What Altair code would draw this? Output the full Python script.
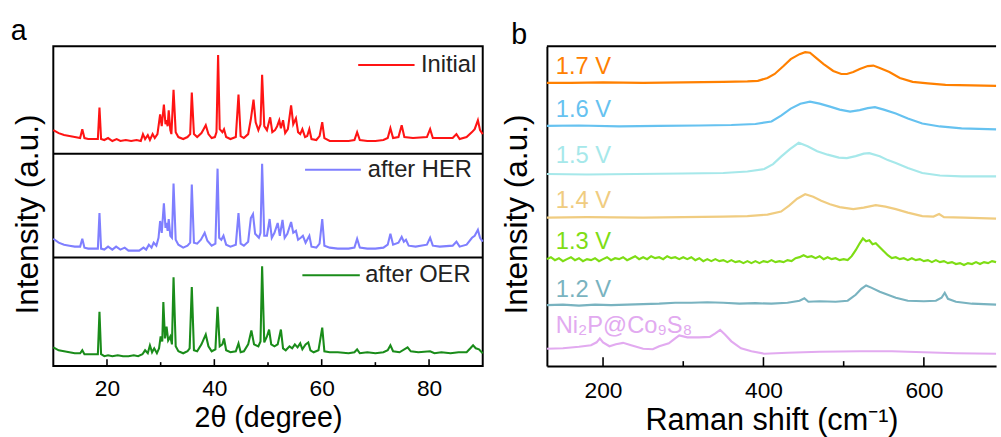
import altair as alt
import pandas as pd

FONT = "Liberation Sans"

# ---------------- Panel a : XRD patterns ----------------
initial_theta = [10.0, 11, 12, 13, 14, 15.0, 15.4, 15.8, 16.5, 17.5, 18.3, 18.6, 18.9, 19.5, 20.2, 21, 21.8, 22.5, 23.5, 24.5,
                 25.5, 26.3, 26.7, 27.1, 27.6, 28.0, 28.5, 28.9, 29.4, 29.9, 30.2, 30.6, 30.9, 31.1, 31.3, 31.5, 31.8, 32.0,
                 32.4, 32.8, 33.3, 34.2, 35.0, 35.5, 35.8, 36.2, 36.8, 37.6, 38.0, 38.4, 38.9, 39.5, 40.1, 40.4, 40.7, 41.0,
                 41.5, 41.8, 42.2, 43.0, 44.0, 44.5, 44.9, 45.5, 46.3, 46.8, 47.3, 47.7, 48.2, 48.6, 48.9, 49.3, 49.8, 50.4,
                 50.8, 51.3, 51.7, 52.1, 52.4, 52.8, 53.2, 53.7, 54.3, 54.7, 55.2, 55.6, 56.0, 56.4, 56.9, 57.3, 57.7, 58.1,
                 59.0, 59.6, 60.1, 60.5, 61.5, 63, 65, 66.1, 66.6, 67.1, 68.5, 70, 71.5, 72.3, 72.8, 73.3, 74.3, 74.9, 75.4,
                 77, 79.6, 80.2, 80.7, 82, 84.4, 85.1, 85.7, 87, 88.0, 88.5, 89.1, 89.5, 90]
initial_int = [24, 21, 19, 18, 17, 16, 25, 16, 15, 15, 15, 47, 15, 14, 16, 13, 15, 13, 14, 13,
               14, 13, 20, 15, 19, 14, 20, 16, 20, 40, 28, 50, 30, 34, 28, 44, 24, 20,
               65, 22, 17, 15, 17, 20, 62, 20, 17, 21, 25, 29, 20, 16, 17, 22, 100, 25,
               22, 25, 17, 15, 17, 60, 18, 16, 20, 35, 55, 32, 24, 30, 80, 28, 24, 37,
               22, 24, 28, 34, 26, 34, 21, 25, 49, 30, 36, 22, 20, 25, 17, 18, 25, 15,
               14, 18, 32, 16, 13, 13, 13, 14, 22, 14, 13, 13, 14, 16, 26, 16, 17, 29, 17,
               16, 17, 25, 16, 16, 16, 20, 15, 17, 22, 25, 34, 24, 20]

her_theta = [10.0, 11, 12, 13, 14, 15.0, 15.4, 15.8, 16.5, 17.5, 18.3, 18.6, 18.9, 19.5, 20.2, 21, 21.7, 22.5, 23.3, 24,
             25, 26, 26.8, 27.3, 27.8, 28.3, 28.7, 29.2, 29.6, 29.9, 30.2, 30.6, 30.9, 31.1, 31.3, 31.5, 31.8, 32.1,
             32.4, 32.8, 33.3, 34.2, 35.0, 35.5, 35.8, 36.2, 36.8, 37.5, 38.2, 38.7, 39.5, 40.2, 40.6, 40.9, 41.3, 41.7,
             42.2, 43, 44.0, 44.5, 44.9, 45.5, 46.3, 46.8, 47.2, 47.6, 48.3, 48.6, 48.9, 49.3, 49.8, 50.3, 50.7, 51.2,
             51.8, 52.2, 52.7, 53.1, 53.6, 54.3, 54.7, 55.2, 55.6, 56.1, 56.5, 57.0, 57.7, 58.1, 59.0, 59.6, 60.1, 60.5,
             61.5, 63, 65, 66.1, 66.6, 67.1, 68.5, 70, 71.5, 72.3, 72.8, 73.3, 74.3, 74.9, 75.3, 75.7, 76.2, 77.5, 79.6,
             80.2, 80.7, 82, 84.4, 85.1, 85.7, 87, 88.0, 88.5, 89.1, 89.5, 90]
her_int = [19, 15, 13, 12, 11, 11, 19, 10, 9, 9, 9, 45, 9, 8, 11, 8, 11, 8, 10, 7,
           7, 7, 10, 8, 13, 10, 15, 12, 20, 37, 25, 55, 30, 35, 27, 39, 22, 20,
           75, 18, 13, 10, 12, 15, 74, 15, 14, 18, 25, 17, 12, 14, 90, 20, 18, 22,
           13, 11, 13, 45, 14, 12, 16, 40, 44, 24, 20, 25, 95, 22, 22, 39, 20, 25,
           35, 22, 38, 20, 24, 36, 25, 27, 18, 20, 22, 15, 22, 11, 10, 14, 39, 12,
           10, 9, 9, 10, 19, 10, 9, 9, 10, 13, 24, 13, 15, 21, 16, 18, 12, 11, 13,
           20, 12, 11, 12, 16, 11, 13, 20, 22, 28, 20, 16]

oer_theta = [10.0, 11, 12, 13, 14, 15.0, 15.4, 15.8, 16.5, 17.5, 18.3, 18.6, 18.9, 19.5, 20.2, 21, 22, 23, 24, 25,
             25.8, 26.6, 27.1, 27.6, 28.0, 28.4, 28.8, 29.3, 29.7, 30.0, 30.3, 30.5, 30.8, 31.1, 31.4, 31.8, 32.1,
             32.4, 32.8, 33.3, 34.2, 35.0, 35.4, 35.8, 36.2, 36.8, 37.6, 38.0, 38.4, 38.9, 39.5, 40.2, 40.6, 41.0,
             41.5, 41.8, 42.2, 43, 44.0, 44.5, 44.9, 45.5, 46.3, 46.9, 47.4, 48.2, 48.6, 48.9, 49.3, 49.8, 50.2,
             50.6, 51.2, 51.8, 52.4, 52.8, 53.3, 54.0, 54.5, 55.0, 55.5, 56.0, 56.4, 57.0, 57.5, 57.9, 58.5, 59.4,
             60.1, 60.5, 61.5, 63, 65, 66.1, 66.6, 67.1, 68.5, 70, 71.5, 72.3, 72.8, 73.3, 74.5, 76.0, 76.6, 78,
             80.2, 81, 82.3, 84.0, 85.5, 87, 87.7, 88.2, 88.7, 89.3, 90]
oer_int = [19, 16, 15, 14, 13, 13, 16, 12, 12, 12, 12, 55, 12, 10, 11, 10, 11, 10, 10, 11,
           10, 12, 16, 13, 21, 14, 18, 13, 18, 30, 25, 65, 28, 40, 26, 30, 22,
           90, 20, 15, 13, 15, 18, 80, 16, 15, 22, 27, 32, 20, 15, 17, 60, 20,
           22, 28, 16, 14, 15, 23, 14, 15, 22, 36, 22, 20, 25, 101, 24, 30, 37,
           22, 20, 22, 37, 18, 16, 20, 18, 22, 19, 23, 17, 22, 24, 16, 14, 16,
           39, 15, 14, 14, 13, 14, 17, 13, 14, 13, 14, 16, 21, 15, 14, 19, 15, 14,
           15, 13, 14, 13, 14, 14, 18, 21, 18, 17, 13]

xrd_names = ["Initial", "after HER", "after OER"]
xrd_colors = ["#FF1414", "#7F7FFF", "#1A8C1A"]
xrd_offsets = [215, 110, 0]          # vertical stacking of the three sub-panels
xrd_separators = [110, 215]
legend_x1 = [66.8, 56.9, 56.4]
legend_x2 = [77.3, 67.3, 67.1]
legend_y = [305, 199, 92]
legend_text_x = [78.5, 68.6, 68.1]
xrd_ticks = [20, 30, 40, 50, 60, 70, 80]
xrd_tick_len = [7, 4, 7, 4, 7, 4, 7]

# ---------------- Panel b : Raman spectra ----------------
r17_x = [130, 160, 200, 250, 300, 350, 380, 393, 405, 414, 425, 434, 445, 452, 458, 466, 475, 487, 497, 504, 512, 520,
         530, 537, 545, 557, 570, 586, 605, 627, 660, 690]
r17_y = [286, 286, 286.5, 286, 286.5, 287, 287.5, 288, 291, 295, 303, 310, 315, 317, 316.5, 311, 305, 298, 295, 295,
         297, 300, 303, 303.5, 301, 297, 291, 287, 285.5, 284, 283.5, 283]
r16_x = [130, 170, 220, 270, 320, 360, 390, 410, 422, 434, 446, 458, 470, 483, 495, 508, 520, 530, 539, 550, 565, 580,
         598, 620, 647, 690]
r16_y = [242.5, 243, 242, 242.5, 243, 243.5, 244.5, 247, 253, 260, 265, 267, 265, 262, 259, 257, 258.5, 260.5, 261.5,
         259, 255, 250, 245, 242, 240, 239]
r15_x = [130, 180, 240, 300, 350, 380, 401, 412, 422, 433, 444, 455, 467, 480, 494, 504, 515, 525, 532, 545, 555, 565,
         580, 598, 620, 647, 690]
r15_y = [194, 193.5, 194, 194.5, 195, 196.5, 199, 204, 211.5, 219, 225.5, 222, 217, 213.5, 210.5, 210, 212, 214.5, 215,
         212, 208, 205, 200, 195, 192.5, 191.5, 191.5]
r14_x = [130, 180, 250, 300, 350, 380, 405, 422, 432, 442, 452, 462, 472, 483, 495, 512, 525, 540, 552, 565, 580, 598,
         612, 619, 625, 650, 690]
r14_y = [150, 150.5, 150, 150.5, 151, 151.5, 153, 156, 162, 169, 173.5, 171, 167, 163.5, 160.5, 158.5, 160, 162.5, 161,
         158.5, 155, 151.5, 151, 153.5, 150.5, 150, 149]
r13_x = [130, 135, 140, 145, 150, 155, 160, 165, 170, 175, 180, 185, 190, 195, 200, 205, 210, 215, 220, 225, 230, 235,
         240, 245, 250, 255, 260, 265, 270, 275, 280, 285, 290, 295, 300, 305, 310, 315, 320, 325, 330, 335, 340, 345,
         350, 355, 360, 365, 370, 375, 380, 385, 390, 395, 400, 405, 410, 415, 420, 425, 430, 435, 440, 445, 450, 455,
         460, 465, 470, 475, 480, 485, 490, 495, 500, 505, 510, 515, 520, 524, 528, 532, 536, 540, 545, 550, 555, 560,
         565, 570, 575, 580, 585, 590, 595, 600, 605, 610, 615, 620, 625, 630, 635, 640, 645, 650, 655, 660, 665, 670,
         675, 680, 685, 690]
r13_y = [108, 110, 107, 109, 106, 108, 110, 107, 109, 106, 108, 107, 109, 106, 108, 110, 107, 109, 108, 110, 107, 109,
         111, 108, 110, 108, 111, 109, 110, 108, 111, 109, 110, 108, 110, 108, 110, 107, 109, 106, 108, 106, 108, 106,
         107, 105, 107, 105, 106, 104, 106, 104, 106, 104, 106, 105, 107, 105, 106, 105, 107, 106, 109, 110, 112, 110,
         111, 109, 111, 108, 110, 108, 109, 107, 108, 107, 111, 117, 124, 129, 126, 127, 123, 124, 120, 116, 112, 109,
         110, 108, 109, 107, 109, 107, 108, 106, 107, 105, 107, 105, 106, 104, 105, 103, 104, 102, 104, 103, 105, 103,
         105, 104, 106, 105]
r12_x = [130, 150, 170, 190, 210, 230, 250, 270, 290, 310, 330, 350, 370, 390, 410, 430, 445, 451, 456, 470, 490, 505,
         515, 522, 528, 535, 545, 555, 565, 580, 600, 615, 622, 626, 630, 640, 660, 690]
r12_y = [61.5, 62, 61, 62, 61.5, 62, 62.5, 63, 64, 64, 64.5, 64, 63, 63.5, 63, 64, 66, 68.5, 65, 65.5, 65, 66,
         72, 78, 81.5, 79, 75, 72, 69, 66, 65.5, 66, 69, 74, 68, 65, 63, 62]
rni_x = [130, 150, 170, 185, 192, 196, 200, 208, 216, 225, 235, 250, 262, 270, 282, 290, 295, 305, 320, 333, 340, 346,
         352, 360, 372, 385, 401, 430, 470, 520, 560, 600, 640, 690]
rni_y = [17.5, 18, 19.5, 21, 24, 28, 24, 20, 22, 23.5, 21, 17.5, 17, 20, 23, 28, 31, 29, 29, 29.5, 33, 36.5,
         32, 25, 18, 15, 12.5, 13.5, 14.5, 15, 15, 14, 13, 12.5]

raman_names = ["1.7 V", "1.6 V", "1.5 V", "1.4 V", "1.3 V", "1.2 V", "Ni₂P@Co₉S₈"]
raman_colors = ["#FF8000", "#66C2F0", "#A6E8EA", "#F0CC80", "#7EDD14", "#79B3C0", "#E2AAF0"]
raman_label_y = [295, 252, 205, 160, 118, 70, 33]
raman_label_x = 141
raman_ticks = [200, 300, 400, 500, 600]
raman_tick_len = [9, 5, 9, 5, 9]

# ---------------- build tables ----------------
rows = []
for name, th, it, off in zip(xrd_names, [initial_theta, her_theta, oer_theta],
                             [initial_int, her_int, oer_int], xrd_offsets):
    for t, v in zip(th, it):
        rows.append({"theta": t, "y": v + off, "sample": name})
df_a = pd.DataFrame(rows)

rows = []
for name, xs, ys in zip(raman_names, [r17_x, r16_x, r15_x, r14_x, r13_x, r12_x, rni_x],
                        [r17_y, r16_y, r15_y, r14_y, r13_y, r12_y, rni_y]):
    for x, y in zip(xs, ys):
        rows.append({"shift": x, "y": y, "potential": name})
df_b = pd.DataFrame(rows)

W_A, W_B, H = 435, 455, 324

xa = alt.Scale(domain=[10, 90], nice=False, zero=False)
ya = alt.Scale(domain=[0, 324], nice=False, zero=False)
xb = alt.Scale(domain=[130, 690], nice=False, zero=False)
yb = alt.Scale(domain=[0, 323], nice=False, zero=False)

color_a = alt.Scale(domain=xrd_names, range=xrd_colors)
color_b = alt.Scale(domain=raman_names, range=raman_colors)

axis_xa = alt.Axis(values=[20, 40, 60, 80], ticks=False, domain=False, grid=False,
                   labelFontSize=23, labelBaseline="alphabetic", labelPadding=30, labelColor="black",
                   title="2θ (degree)", titleFontSize=29, titleFontWeight="normal", titleColor="black",
                   titleBaseline="alphabetic", titleY=61)
axis_ya = alt.Axis(labels=False, ticks=False, domain=False, grid=False,
                   title="Intensity (a.u.)", titleFontSize=32, titleFontWeight="normal", titleColor="black",
                   titleBaseline="alphabetic", titleX=-16, titleY=170, titleAngle=270)

lines_a = alt.Chart(df_a).mark_line(strokeWidth=2.1).encode(
    x=alt.X("theta:Q", scale=xa, axis=axis_xa),
    y=alt.Y("y:Q", scale=ya, axis=axis_ya),
    color=alt.Color("sample:N", scale=color_a, legend=None),
)

sep_a = alt.Chart(pd.DataFrame({"y": xrd_separators})).mark_rule(color="black", strokeWidth=2).encode(
    y=alt.Y("y:Q", scale=ya))

ticks_a = alt.Chart(pd.DataFrame({"x": xrd_ticks, "y0": [0] * len(xrd_ticks), "y1": xrd_tick_len})).mark_rule(
    color="black", strokeWidth=1.6).encode(
    x=alt.X("x:Q", scale=xa), y=alt.Y("y0:Q", scale=ya), y2="y1:Q")

leg_df = pd.DataFrame({"x1": legend_x1, "x2": legend_x2, "y": legend_y, "tx": legend_text_x,
                       "sample": xrd_names})
leg_lines = alt.Chart(leg_df).mark_rule(strokeWidth=2).encode(
    x=alt.X("x1:Q", scale=xa), x2="x2:Q", y=alt.Y("y:Q", scale=ya),
    color=alt.Color("sample:N", scale=color_a, legend=None))
leg_text = alt.Chart(leg_df).mark_text(align="left", baseline="middle", fontSize=24, color="#222222",
                                        font=FONT).encode(
    x=alt.X("tx:Q", scale=xa), y=alt.Y("y:Q", scale=ya), text="sample:N")

letter_a = alt.Chart(pd.DataFrame({"t": ["a"]})).mark_text(
    align="left", baseline="alphabetic", fontSize=29, color="black", font=FONT).encode(
    text="t:N", x=alt.value(-43), y=alt.value(-6))

panel_a = alt.layer(lines_a, sep_a, ticks_a, leg_lines, leg_text, letter_a).properties(
    width=W_A, height=H, view=alt.ViewBackground(stroke="black", strokeWidth=2))

axis_xb = alt.Axis(values=[200, 400, 600], ticks=False, domain=True, domainColor="black", domainWidth=2,
                   grid=False, labelFontSize=23, labelBaseline="alphabetic", labelPadding=32, labelColor="black",
                   title="Raman shift (cm⁻¹)", titleFontSize=31, titleFontWeight="normal", titleColor="black",
                   titleBaseline="alphabetic", titleY=64)
axis_yb = alt.Axis(labels=False, ticks=False, domain=True, domainColor="black", domainWidth=2, grid=False,
                   title="Intensity (a.u.)", titleFontSize=32, titleFontWeight="normal", titleColor="black",
                   titleBaseline="alphabetic", titleX=-21, titleY=170, titleAngle=270)

lines_b = alt.Chart(df_b).mark_line(strokeWidth=2.2).encode(
    x=alt.X("shift:Q", scale=xb, axis=axis_xb),
    y=alt.Y("y:Q", scale=yb, axis=axis_yb),
    color=alt.Color("potential:N", scale=color_b, legend=None),
)

lab_df = pd.DataFrame({"potential": raman_names, "y": raman_label_y, "x": [raman_label_x] * len(raman_names)})
labels_b = alt.Chart(lab_df).mark_text(align="left", baseline="alphabetic", fontSize=24, font=FONT).encode(
    x=alt.X("x:Q", scale=xb), y=alt.Y("y:Q", scale=yb), text="potential:N",
    color=alt.Color("potential:N", scale=color_b, legend=None))

ticks_b = alt.Chart(pd.DataFrame({"x": raman_ticks, "y0": [0] * len(raman_ticks), "y1": raman_tick_len})).mark_rule(
    color="black", strokeWidth=1.6).encode(
    x=alt.X("x:Q", scale=xb), y=alt.Y("y0:Q", scale=yb), y2="y1:Q")

top_b = alt.Chart(pd.DataFrame({"t": [0]})).mark_rule(color="black", strokeWidth=2).encode(
    x=alt.value(0), x2=alt.value(W_B), y=alt.value(0))

letter_b = alt.Chart(pd.DataFrame({"t": ["b"]})).mark_text(
    align="left", baseline="alphabetic", fontSize=29, color="black", font=FONT).encode(
    text="t:N", x=alt.value(-36), y=alt.value(-2))

panel_b = alt.layer(lines_b, labels_b, ticks_b, top_b, letter_b).properties(
    width=W_B, height=H, view=alt.ViewBackground(stroke=None))

chart = alt.hconcat(panel_a, panel_b, spacing=11).resolve_scale(
    color="independent", x="independent", y="independent"
).properties(
    padding={"left": 10, "top": 14, "right": 0, "bottom": 0},
    background="white",
).configure(font=FONT).configure_view(stroke=None)

chart.save("out.html", embed_options={"renderer": "svg", "actions": False})
